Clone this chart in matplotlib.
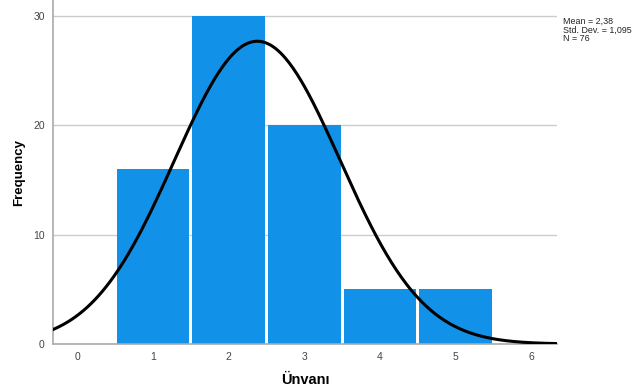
import numpy as np
import matplotlib
matplotlib.use("Agg")
import matplotlib.pyplot as plt

plt.rcParams['font.family'] = ['Liberation Sans', 'DejaVu Sans']

# Histogram data
categories = [1, 2, 3, 4, 5]
counts = [16, 30, 20, 5, 5]
mean = 2.38
std_dev = 1.095
n_total = 76
stats_text = ["Mean = 2,38", "Std. Dev. = 1,095", "N = 76"]

fig = plt.figure(figsize=(6.35, 3.92), dpi=100)
ax = fig.add_axes([0.0835, 0.1224, 0.7935, 0.8776])

ax.bar(categories, counts, width=0.96, color="#1192e8", linewidth=0, zorder=2)

# Normal curve fitted from mean / std dev, scaled to counts (bin width 1)
xlim = (-0.32, 6.34)
xs = np.linspace(xlim[0], xlim[1], 400)
ys = n_total / (std_dev * np.sqrt(2 * np.pi)) * np.exp(-0.5 * ((xs - mean) / std_dev) ** 2)
ax.plot(xs, ys, color="black", linewidth=2.2, zorder=3)

ax.set_xlim(*xlim)
ax.set_ylim(0, 31.46)
ax.set_xticks(range(0, 7))
ax.set_yticks([0, 10, 20, 30])
ax.tick_params(length=0, labelsize=7.5, colors="#444444", pad=6)
ax.grid(axis="y", color="#cccccc", linewidth=1, zorder=0)
ax.set_axisbelow(True)
for side in ["top", "right"]:
    ax.spines[side].set_visible(False)
for side in ["left", "bottom"]:
    ax.spines[side].set_color("#aaaaaa")
    ax.spines[side].set_linewidth(1.2)

ax.set_xlabel("Ünvanı", fontsize=10.5, fontweight="bold", labelpad=8)
ax.set_ylabel("Frequency", fontsize=9.5, fontweight="bold", labelpad=6)

fig.text(563 / 635, 1 - 17 / 392, "\n".join(stats_text), fontsize=6.4,
         va="top", ha="left", linespacing=0.95, color="#222222")

plt.savefig("out.png", dpi=100)
